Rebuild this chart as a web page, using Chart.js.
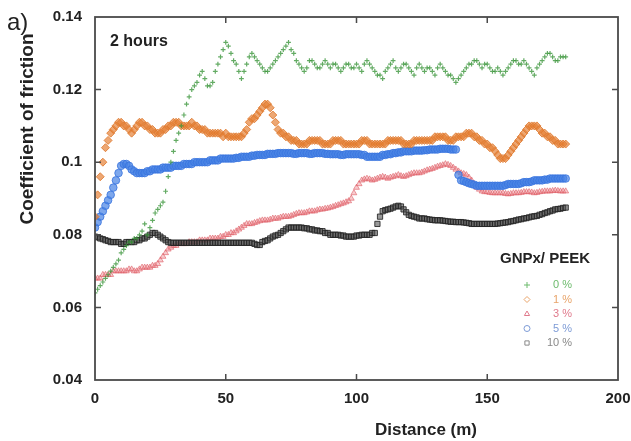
<!DOCTYPE html>
<html>
<head>
<meta charset="utf-8">
<script src="https://cdn.jsdelivr.net/npm/chart.js@4/dist/chart.umd.min.js"></script>
<style>
  html, body { margin: 0; padding: 0; background: #fff; }
  #wrap { width: 631px; height: 441px; }
</style>
</head>
<body>
<div id="wrap"><canvas id="cof" width="631" height="441"></canvas></div>
<script>
// Sliding distance (m), one reading per metre
const distance = [
    0, 1, 2, 3, 4, 5, 6, 7, 8, 9,
    10, 11, 12, 13, 14, 15, 16, 17, 18, 19,
    20, 21, 22, 23, 24, 25, 26, 27, 28, 29,
    30, 31, 32, 33, 34, 35, 36, 37, 38, 39,
    40, 41, 42, 43, 44, 45, 46, 47, 48, 49,
    50, 51, 52, 53, 54, 55, 56, 57, 58, 59,
    60, 61, 62, 63, 64, 65, 66, 67, 68, 69,
    70, 71, 72, 73, 74, 75, 76, 77, 78, 79,
    80, 81, 82, 83, 84, 85, 86, 87, 88, 89,
    90, 91, 92, 93, 94, 95, 96, 97, 98, 99,
    100, 101, 102, 103, 104, 105, 106, 107, 108, 109,
    110, 111, 112, 113, 114, 115, 116, 117, 118, 119,
    120, 121, 122, 123, 124, 125, 126, 127, 128, 129,
    130, 131, 132, 133, 134, 135, 136, 137, 138, 139,
    140, 141, 142, 143, 144, 145, 146, 147, 148, 149,
    150, 151, 152, 153, 154, 155, 156, 157, 158, 159,
    160, 161, 162, 163, 164, 165, 166, 167, 168, 169,
    170, 171, 172, 173, 174, 175, 176, 177, 178, 179,
    180
];

// Coefficient of friction, GNPx/PEEK 0 %
const cof0 = [
    0.064, 0.065, 0.066, 0.067, 0.068, 0.069, 0.070, 0.071, 0.072, 0.073,
    0.075, 0.076, 0.077, 0.078, 0.078, 0.079, 0.079, 0.080, 0.081, 0.083,
    0.080, 0.082, 0.084, 0.086, 0.087, 0.088, 0.089, 0.092, 0.096, 0.100,
    0.103, 0.106, 0.108, 0.110, 0.113, 0.116, 0.118, 0.120, 0.121, 0.122,
    0.124, 0.125, 0.123, 0.121, 0.121, 0.122, 0.125, 0.127, 0.129, 0.131,
    0.133, 0.132, 0.130, 0.128, 0.127, 0.125, 0.123, 0.125, 0.127, 0.129,
    0.130, 0.129, 0.128, 0.127, 0.126, 0.125, 0.125, 0.126, 0.127, 0.128,
    0.129, 0.130, 0.131, 0.132, 0.133, 0.131, 0.130, 0.128, 0.127, 0.126,
    0.125, 0.126, 0.128, 0.128, 0.127, 0.126, 0.126, 0.127, 0.128, 0.127,
    0.126, 0.127, 0.127, 0.126, 0.125, 0.126, 0.127, 0.127, 0.126, 0.126,
    0.127, 0.126, 0.125, 0.127, 0.128, 0.127, 0.126, 0.125, 0.124, 0.124,
    0.123, 0.125, 0.126, 0.127, 0.128, 0.126, 0.125, 0.126, 0.127, 0.127,
    0.126, 0.125, 0.124, 0.126, 0.127, 0.126, 0.125, 0.126, 0.126, 0.125,
    0.124, 0.126, 0.127, 0.126, 0.125, 0.124, 0.124, 0.123, 0.122, 0.123,
    0.124, 0.125, 0.126, 0.127, 0.127, 0.128, 0.128, 0.127, 0.126, 0.127,
    0.127, 0.126, 0.125, 0.125, 0.126, 0.125, 0.124, 0.125, 0.126, 0.127,
    0.128, 0.128, 0.127, 0.127, 0.128, 0.127, 0.126, 0.125, 0.124, 0.126,
    0.127, 0.128, 0.129, 0.130, 0.130, 0.129, 0.128, 0.128, 0.129, 0.129,
    0.129
];

// GNPx/PEEK 1 %
const cof1 = [
    0.085, 0.091, 0.096, 0.100, 0.104, 0.106, 0.108, 0.109, 0.110, 0.111,
    0.111, 0.110, 0.110, 0.109, 0.108, 0.109, 0.110, 0.111, 0.111, 0.110,
    0.110, 0.109, 0.109, 0.108, 0.108, 0.108, 0.109, 0.109, 0.110, 0.110,
    0.111, 0.111, 0.111, 0.110, 0.110, 0.110, 0.110, 0.111, 0.110, 0.110,
    0.109, 0.109, 0.109, 0.108, 0.108, 0.108, 0.108, 0.108, 0.108, 0.107,
    0.108, 0.107, 0.107, 0.107, 0.107, 0.107, 0.107, 0.108, 0.109, 0.111,
    0.112, 0.112, 0.113, 0.114, 0.115, 0.116, 0.116, 0.115, 0.113, 0.111,
    0.109, 0.108, 0.108, 0.107, 0.107, 0.106, 0.106, 0.106, 0.105, 0.105,
    0.105, 0.105, 0.106, 0.106, 0.106, 0.106, 0.106, 0.105, 0.105, 0.105,
    0.105, 0.106, 0.106, 0.106, 0.106, 0.105, 0.105, 0.105, 0.105, 0.105,
    0.105, 0.105, 0.106, 0.106, 0.106, 0.105, 0.105, 0.105, 0.105, 0.105,
    0.105, 0.105, 0.106, 0.106, 0.106, 0.106, 0.106, 0.106, 0.105, 0.105,
    0.105, 0.105, 0.106, 0.106, 0.106, 0.106, 0.106, 0.106, 0.106, 0.106,
    0.107, 0.107, 0.107, 0.107, 0.107, 0.106, 0.106, 0.106, 0.107, 0.107,
    0.107, 0.107, 0.108, 0.108, 0.108, 0.107, 0.107, 0.106, 0.106, 0.105,
    0.105, 0.104, 0.104, 0.103, 0.102, 0.101, 0.101, 0.101, 0.102, 0.103,
    0.104, 0.105, 0.106, 0.107, 0.108, 0.109, 0.110, 0.110, 0.110, 0.110,
    0.109, 0.108, 0.108, 0.107, 0.107, 0.106, 0.106, 0.105, 0.105, 0.105,
    0.105
];

// GNPx/PEEK 3 %
const cof3 = [
    0.068, 0.068, 0.068, 0.069, 0.069, 0.069, 0.069, 0.070, 0.070, 0.070,
    0.070, 0.070, 0.070, 0.0705, 0.0705, 0.070, 0.070, 0.0705, 0.071, 0.071,
    0.071, 0.071, 0.0715, 0.0715, 0.072, 0.073, 0.074, 0.075, 0.076, 0.0765,
    0.077, 0.077, 0.0775, 0.0775, 0.0775, 0.0775, 0.078, 0.078, 0.078, 0.078,
    0.0785, 0.0785, 0.0785, 0.0785, 0.079, 0.079, 0.079, 0.079, 0.0795, 0.0795,
    0.080, 0.080, 0.0805, 0.0805, 0.081, 0.0815, 0.082, 0.0825, 0.083, 0.083,
    0.083, 0.0833, 0.0835, 0.0838, 0.084, 0.084, 0.084, 0.0842, 0.0845, 0.0845,
    0.0845, 0.0848, 0.085, 0.085, 0.085, 0.0852, 0.0855, 0.0858, 0.086, 0.086,
    0.086, 0.0862, 0.0865, 0.0865, 0.0865, 0.0868, 0.087, 0.087, 0.0872, 0.0873,
    0.0875, 0.0877, 0.088, 0.0882, 0.0885, 0.0887, 0.089, 0.0893, 0.090, 0.0915,
    0.093, 0.094, 0.095, 0.0953, 0.0955, 0.0953, 0.095, 0.0952, 0.0955, 0.0958,
    0.096, 0.0958, 0.0955, 0.0958, 0.096, 0.0962, 0.0965, 0.0962, 0.096, 0.0962,
    0.0965, 0.0968, 0.097, 0.097, 0.097, 0.0972, 0.0975, 0.0978, 0.098, 0.0982,
    0.0985, 0.0988, 0.099, 0.0992, 0.0995, 0.0993, 0.099, 0.0985, 0.098, 0.0975,
    0.097, 0.0968, 0.0965, 0.0958, 0.095, 0.094, 0.093, 0.0925, 0.092, 0.0918,
    0.0918, 0.0916, 0.0915, 0.0915, 0.0915, 0.0915, 0.0915, 0.0913, 0.0912, 0.0913,
    0.0915, 0.0915, 0.0915, 0.0916, 0.0918, 0.0918, 0.0918, 0.0917, 0.0915, 0.0916,
    0.0918, 0.0919, 0.092, 0.092, 0.092, 0.0921, 0.0922, 0.0921, 0.092, 0.092,
    0.092
];

// GNPx/PEEK 5 %
const cof5 = [
    0.082, 0.0835, 0.085, 0.0865, 0.088, 0.0895, 0.091, 0.093, 0.095, 0.097,
    0.099, 0.0995, 0.0995, 0.099, 0.098, 0.0975, 0.097, 0.097, 0.097, 0.097,
    0.0975, 0.0975, 0.098, 0.098, 0.098, 0.098, 0.0985, 0.0985, 0.0985, 0.0985,
    0.099, 0.099, 0.099, 0.099, 0.0995, 0.0995, 0.0995, 0.0995, 0.100, 0.100,
    0.100, 0.100, 0.100, 0.100, 0.1005, 0.1005, 0.1005, 0.1005, 0.101, 0.101,
    0.101, 0.101, 0.101, 0.101, 0.1012, 0.1012, 0.1015, 0.1015, 0.1015, 0.1015,
    0.1018, 0.1018, 0.102, 0.102, 0.102, 0.102, 0.1023, 0.1023, 0.1023, 0.1023,
    0.1025, 0.1025, 0.1025, 0.1025, 0.1025, 0.1025, 0.1023, 0.1023, 0.1025, 0.1025,
    0.1025, 0.1025, 0.1023, 0.1023, 0.1025, 0.1025, 0.1025, 0.1025, 0.1023, 0.1023,
    0.1022, 0.1022, 0.1022, 0.1022, 0.102, 0.102, 0.1022, 0.1022, 0.1022, 0.1022,
    0.1022, 0.1022, 0.102, 0.102, 0.1015, 0.1015, 0.1015, 0.1015, 0.1015, 0.1015,
    0.102, 0.102, 0.1022, 0.1022, 0.1025, 0.1025, 0.1027, 0.1027, 0.103, 0.103,
    0.103, 0.103, 0.1032, 0.1032, 0.1032, 0.1032, 0.1033, 0.1033, 0.1035, 0.1035,
    0.1035, 0.1035, 0.1037, 0.1037, 0.1037, 0.1037, 0.1035, 0.1035, 0.1035, 0.0965,
    0.095, 0.0948, 0.0945, 0.0942, 0.094, 0.0938, 0.0935, 0.0935, 0.0935, 0.0935,
    0.0935, 0.0935, 0.0935, 0.0935, 0.0935, 0.0935, 0.0935, 0.0937, 0.094, 0.094,
    0.094, 0.094, 0.094, 0.0942, 0.0945, 0.0945, 0.0945, 0.0947, 0.095, 0.095,
    0.095, 0.095, 0.0952, 0.0952, 0.0955, 0.0955, 0.0955, 0.0955, 0.0955, 0.0955,
    0.0955
];

// GNPx/PEEK 10 %
const cof10 = [
    0.0795, 0.0793, 0.079, 0.0788, 0.0785, 0.0783, 0.078, 0.078, 0.078, 0.078,
    0.0775, 0.0775, 0.078, 0.078, 0.078, 0.078, 0.0785, 0.0785, 0.079, 0.079,
    0.0795, 0.080, 0.0805, 0.0805, 0.080, 0.0795, 0.079, 0.0785, 0.078, 0.0778,
    0.0778, 0.0778, 0.0778, 0.0778, 0.0778, 0.0778, 0.0778, 0.0778, 0.0778, 0.0778,
    0.0778, 0.0778, 0.0778, 0.0778, 0.0778, 0.0778, 0.0778, 0.0778, 0.0778, 0.0778,
    0.0778, 0.0778, 0.0778, 0.0778, 0.0778, 0.0778, 0.0778, 0.0778, 0.0778, 0.0778,
    0.0778, 0.0775, 0.0772, 0.0772, 0.078, 0.0783, 0.0785, 0.079, 0.0795, 0.0798,
    0.080, 0.0805, 0.081, 0.0815, 0.082, 0.082, 0.082, 0.082, 0.082, 0.082,
    0.0818, 0.0818, 0.0815, 0.0815, 0.0812, 0.0812, 0.081, 0.081, 0.0805, 0.0805,
    0.080, 0.080, 0.080, 0.080, 0.0798, 0.0798, 0.0795, 0.0795, 0.0795, 0.0795,
    0.0798, 0.0798, 0.080, 0.080, 0.080, 0.080, 0.0805, 0.0805, 0.083, 0.085,
    0.0865, 0.0868, 0.087, 0.0872, 0.0875, 0.0878, 0.088, 0.0878, 0.087, 0.0862,
    0.0855, 0.0852, 0.085, 0.0848, 0.0845, 0.0845, 0.0845, 0.0843, 0.0842, 0.0841,
    0.084, 0.084, 0.084, 0.0839, 0.0838, 0.0837, 0.0836, 0.0836, 0.0835, 0.0835,
    0.0835, 0.0834, 0.0833, 0.0832, 0.083, 0.083, 0.083, 0.083, 0.083, 0.083,
    0.083, 0.083, 0.083, 0.083, 0.0831, 0.0832, 0.0833, 0.0834, 0.0835, 0.0837,
    0.0838, 0.084, 0.0842, 0.0843, 0.0845, 0.0846, 0.0848, 0.085, 0.0851, 0.0852,
    0.0855, 0.0857, 0.086, 0.0862, 0.0865, 0.0867, 0.087, 0.0871, 0.0872, 0.0874,
    0.0875
];

const seriesLabels = ['0 %', '1 %', '3 %', '5 %', '10 %'];
const xTicks = [0, 50, 100, 150, 200];
const yTicks = [0.04, 0.06, 0.08, 0.1, 0.12, 0.14];

const FONT = '"Liberation Sans", Arial, sans-serif';

const toPoints = values => distance.map((d, i) => ({ x: d, y: values[i] }));

// Marker look per series (same order as seriesLabels)
const styles = [
    { style: 'cross', radius: 2.4, border: 'rgba(60,150,60,0.8)', fill: 'rgba(60,150,60,0.8)', width: 1.2, text: '#6dbb6d' },
    { style: 'rectRot', radius: 4, border: 'rgba(222,118,40,0.8)', fill: 'rgba(230,130,55,0.7)', width: 1, text: '#e8a46a' },
    { style: 'triangle', radius: 3.4, border: 'rgba(222,92,100,0.6)', fill: 'rgba(236,125,132,0.4)', width: 1, text: '#e07a8c' },
    { style: 'circle', radius: 3.8, border: 'rgba(55,115,222,0.8)', fill: 'rgba(70,130,228,0.7)', width: 1, text: '#7d9bd6' },
    { style: 'rect', radius: 3.7, border: 'rgba(35,35,35,0.85)', fill: 'rgba(70,70,70,0.55)', width: 1, text: '#888888' }
];

// Draw order: first entry ends up on top
const drawOrder = [0, 4, 1, 3, 2];

const seriesValues = [cof0, cof1, cof3, cof5, cof10];

const datasets = seriesValues.map((vals, i) => ({
    label: seriesLabels[i],
    data: toPoints(vals),
    pointStyle: styles[i].style,
    pointRadius: styles[i].radius,
    pointBorderColor: styles[i].border,
    pointBackgroundColor: styles[i].fill,
    pointBorderWidth: styles[i].width,
    showLine: false,
    order: drawOrder.indexOf(i)
}));

// Frame, inward ticks and the free-standing labels
const decorations = {
    id: 'decorations',
    afterDatasetsDraw(chart) {
        const { ctx, chartArea: a, scales: { x, y } } = chart;
        ctx.save();

        ctx.strokeStyle = '#4a4a4a';
        ctx.lineWidth = 1.8;
        ctx.strokeRect(a.left, a.top, a.right - a.left, a.bottom - a.top);

        ctx.lineWidth = 1.5;
        ctx.beginPath();
        xTicks.slice(1, -1).forEach(v => {
            const px = x.getPixelForValue(v);
            ctx.moveTo(px, a.bottom); ctx.lineTo(px, a.bottom - 6);
            ctx.moveTo(px, a.top); ctx.lineTo(px, a.top + 6);
        });
        yTicks.slice(1, -1).forEach(v => {
            const py = y.getPixelForValue(v);
            ctx.moveTo(a.left, py); ctx.lineTo(a.left + 6, py);
            ctx.moveTo(a.right, py); ctx.lineTo(a.right - 6, py);
        });
        ctx.stroke();

        ctx.fillStyle = '#222';
        ctx.textBaseline = 'middle';
        ctx.textAlign = 'left';
        ctx.font = '24px ' + FONT;
        ctx.fillText('a)', 7, 23);

        ctx.font = 'bold 16px ' + FONT;
        ctx.fillText('2 hours', 110, 42);

        // axis titles
        ctx.textAlign = 'center';
        ctx.font = 'bold 17px ' + FONT;
        ctx.fillText('Distance (m)', 426, 430);

        ctx.save();
        ctx.translate(28, 129);
        ctx.rotate(-Math.PI / 2);
        ctx.font = 'bold 19px ' + FONT;
        ctx.fillText('Coefficient of friction', 0, 0);
        ctx.restore();

        // legend
        ctx.font = 'bold 15px ' + FONT;
        ctx.fillStyle = '#222';
        ctx.fillText('GNPx/ PEEK', 545, 259);

        ctx.font = '11px ' + FONT;
        ctx.textAlign = 'right';
        seriesLabels.forEach((lbl, i) => {
            const ly = 285 + i * 14.5;
            const s = styles[i];
            ctx.strokeStyle = s.text;
            ctx.fillStyle = 'rgba(255,255,255,0)';
            ctx.lineWidth = 1;
            Chart.helpers.drawPoint(ctx, { pointStyle: s.style, radius: 3, borderWidth: 1 }, 527, ly);
            ctx.fillStyle = s.text;
            ctx.fillText(lbl, 572, ly);
        });

        ctx.restore();
    }
};

// Invisible tick marks keep the labels clear of the frame
// without the extra layout padding that ticks.padding adds
const hiddenTicks = len => ({
    display: true,
    drawOnChartArea: false,
    drawTicks: true,
    tickLength: len,
    color: 'rgba(0,0,0,0)'
});

new Chart(document.getElementById('cof'), {
    type: 'scatter',
    data: { datasets },
    options: {
        responsive: false,
        animation: false,
        events: [],
        layout: { padding: { top: 17, right: 13, left: 0, bottom: 0 } },
        plugins: {
            legend: { display: false },
            tooltip: { enabled: false }
        },
        scales: {
            x: {
                type: 'linear',
                min: 0,
                max: 200,
                afterFit: scale => { scale.height = 61; },
                afterBuildTicks: scale => { scale.ticks = xTicks.map(v => ({ value: v })); },
                grid: hiddenTicks(10),
                border: { display: false },
                ticks: {
                    padding: 0,
                    color: '#222',
                    font: { family: FONT, size: 15, weight: 'bold' }
                }
            },
            y: {
                type: 'linear',
                min: 0.04,
                max: 0.14,
                afterFit: scale => { scale.width = 95; },
                afterBuildTicks: scale => { scale.ticks = yTicks.map(v => ({ value: v })); },
                grid: hiddenTicks(13),
                border: { display: false },
                ticks: {
                    padding: 0,
                    color: '#222',
                    font: { family: FONT, size: 15, weight: 'bold' },
                    callback: value => String(Number(value.toFixed(2)))
                }
            }
        }
    },
    plugins: [decorations]
});
</script>
</body>
</html>
